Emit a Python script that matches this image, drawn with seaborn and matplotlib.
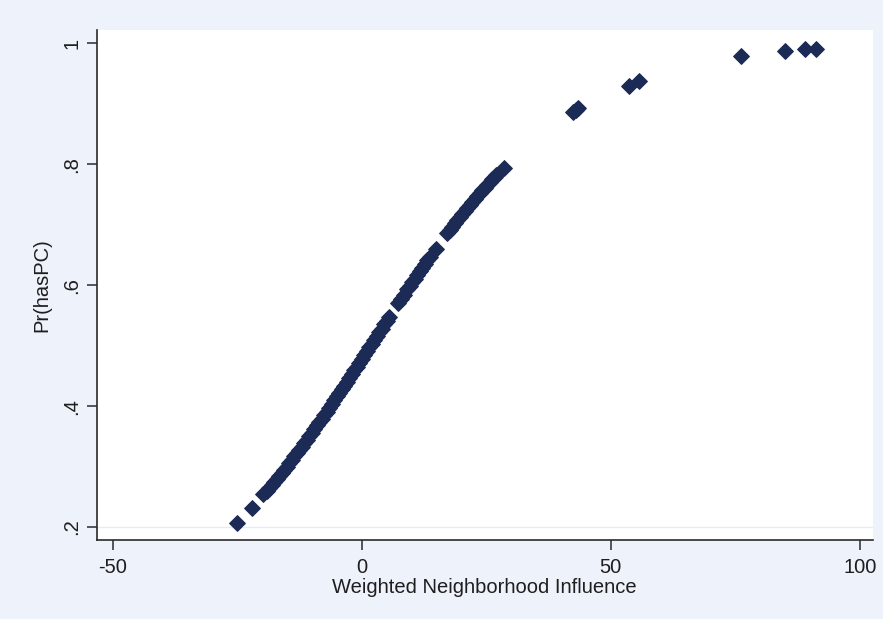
import matplotlib
matplotlib.use("Agg")
import matplotlib.pyplot as plt
import pandas as pd
import seaborn as sns

# Predicted probability of owning a PC against weighted neighbourhood influence
influence = [
    -25.1, -22.1, -19.8,
    -19.0, -18.5, -18.0, -17.5, -17.0, -16.5, -16.0, -15.5, -15.0, -14.5,
    -14.0, -13.5, -13.0, -12.5, -12.0, -11.5, -11.0, -10.5, -10.0, -9.5,
    -9.0, -8.5, -8.0, -7.5, -7.0, -6.5, -6.0, -5.5, -5.0, -4.5,
    -4.0, -3.5, -3.0, -2.5, -2.0, -1.5, -1.0, -0.5, 0.0, 0.5,
    1.0, 1.5, 2.0, 2.5, 3.0, 3.5, 4.0, 4.5, 5.0, 5.5,
    7.3, 7.9, 8.5,
    9.2, 9.7, 10.2, 10.7, 11.2, 11.7, 12.2, 12.7, 13.2, 13.7,
    14.9,
    17.2, 17.7, 18.2, 18.7, 19.2, 19.7, 20.2, 20.7, 21.2, 21.7,
    22.2, 22.7, 23.2, 23.7, 24.2, 24.7, 25.2, 25.7, 26.2, 26.7, 27.0,
    28.5,
    42.4, 43.0, 43.5, 53.7, 55.7, 76.2, 85.0, 89.1, 91.2,
]
pr_haspc = [
    0.206, 0.231, 0.254,
    0.260, 0.265, 0.270, 0.275, 0.280, 0.285, 0.290, 0.295, 0.300, 0.306,
    0.311, 0.317, 0.322, 0.328, 0.333, 0.339, 0.344, 0.350, 0.356, 0.362,
    0.368, 0.373, 0.379, 0.385, 0.391, 0.397, 0.403, 0.410, 0.416, 0.422,
    0.428, 0.434, 0.440, 0.447, 0.453, 0.459, 0.465, 0.472, 0.478, 0.484,
    0.491, 0.497, 0.503, 0.510, 0.516, 0.522, 0.528, 0.535, 0.541, 0.547,
    0.570, 0.577, 0.584,
    0.593, 0.599, 0.605, 0.611, 0.617, 0.623, 0.629, 0.635, 0.641, 0.646,
    0.660,
    0.686, 0.691, 0.697, 0.702, 0.707, 0.712, 0.717, 0.723, 0.728, 0.733,
    0.738, 0.742, 0.747, 0.752, 0.757, 0.761, 0.766, 0.770, 0.775, 0.779, 0.782,
    0.794,
    0.887, 0.890, 0.893, 0.930, 0.938, 0.979, 0.988, 0.990, 0.990,
]

x_ticks = [-50, 0, 50, 100]
x_tick_labels = ["-50", "0", "50", "100"]
y_ticks = [0.2, 0.4, 0.6, 0.8, 1.0]
y_tick_labels = [".2", ".4", ".6", ".8", "1"]

df = pd.DataFrame({"influence": influence, "pr": pr_haspc})

sns.set_style("ticks")
plt.rcParams["font.family"] = ["Liberation Sans", "DejaVu Sans"]

navy = "#1b2b55"
ink = "#1e1e1e"

fig = plt.figure(figsize=(8.83, 6.19), dpi=100, facecolor="#eef2fa")
ax = fig.add_axes([0.1094, 0.1284, 0.8789, 0.8231])
ax.set_facecolor("white")

ax.axhline(0.2, color="#e6ecf6", lw=1.0, zorder=0)

sns.scatterplot(data=df, x="influence", y="pr", marker="D", s=64,
                color=navy, edgecolor=navy, linewidth=0.8, ax=ax, zorder=3)

ax.set_xlim(-53.2, 102.6)
ax.set_ylim(0.1793, 1.022)

ax.set_xticks(x_ticks)
ax.set_xticklabels(x_tick_labels)
ax.set_yticks(y_ticks)
ax.set_yticklabels(y_tick_labels, rotation=90, va="center")

for side in ("top", "right"):
    ax.spines[side].set_visible(False)
for side in ("left", "bottom"):
    ax.spines[side].set_color("#2a2a2a")
    ax.spines[side].set_linewidth(1.2)

ax.tick_params(axis="both", length=7, width=1.1, color="#2a2a2a",
               labelsize=14.5, labelcolor=ink)
ax.tick_params(axis="x", pad=6)
ax.tick_params(axis="y", pad=4)

ax.set_xlabel("Weighted Neighborhood Influence", fontsize=14.5, color=ink, labelpad=1)
ax.set_ylabel("Pr(hasPC)", fontsize=14.5, color=ink, labelpad=8)

fig.savefig("out.png", dpi=100, facecolor=fig.get_facecolor())
